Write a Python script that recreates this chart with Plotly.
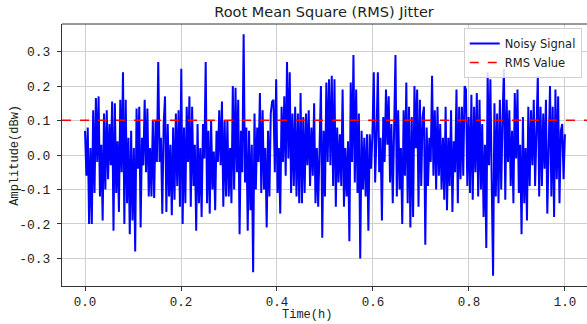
import numpy as np
import plotly.graph_objects as go

title_text = "Root Mean Square (RMS) Jitter"
x_label = "Time(h)"
y_label = "Amplitude(dBw)"
signal_name = "Noisy Signal"
rms_name = "RMS Value"

seg1 = [0.07, -0.06, 0.08, -0.20, 0.02, -0.20, 0.13, -0.11, 0.165, -0.02, 0.17, -0.12, 0.03, -0.19,
        0.12, -0.10, 0.13, -0.07, 0.09, -0.03, 0.155, -0.22, 0.15, -0.11, 0.04, -0.165, 0.16, -0.05,
        0.24, -0.20, 0.16, -0.14, 0.05, -0.23, 0.07, -0.19, 0.02, -0.28, 0.135, -0.04, 0.14, -0.21,
        0.05, -0.03, 0.16, -0.05, 0.135, -0.12, 0.02, -0.12, 0.10, -0.125, 0.10, -0.02, 0.27, -0.02,
        0.05, -0.17, 0.09, 0.17, -0.165, 0.09, -0.12, 0.03, -0.175, 0.08, -0.13, 0.12]
seg2 = [-0.09, 0.13, -0.15, 0.25, -0.20, 0.08, -0.14, 0.14, -0.02, 0.17, -0.15, 0.14, -0.09, 0.03,
        -0.22, 0.09, -0.14, 0.02, -0.18, 0.09, -0.01, 0.27, -0.14, 0.07, -0.17, 0.10, -0.10, 0.01,
        -0.16, 0.07, -0.02, 0.13, -0.03, 0.155, -0.15, 0.10, -0.12, 0.10, -0.12, 0.02, -0.14, 0.20,
        -0.10, 0.195, -0.05, 0.16, -0.23, 0.07, -0.05, 0.35, -0.08, 0.08, -0.22, 0.07, -0.16, 0.03,
        -0.34, 0.12, -0.10, 0.08, -0.02, 0.18, -0.11, 0.13, -0.10, 0.02, -0.21, 0.07, -0.12, 0.12, 0.155]
seg3 = [0.16, -0.05, 0.22, -0.11, 0.02, -0.17, 0.14, -0.02, 0.17, -0.06, 0.27, -0.01, 0.24, -0.11,
        0.12, -0.09, 0.14, -0.12, 0.12, -0.14, 0.18, -0.14, 0.11, -0.11, 0.12, -0.03, 0.13, -0.09,
        0.08, -0.06, 0.15, -0.14, 0.02, -0.15, 0.05, 0.20, -0.24, 0.07, -0.12, 0.21, -0.02, 0.22,
        -0.03, 0.23, -0.09, 0.22, -0.15, 0.08, -0.08, 0.06, -0.09, 0.19, -0.15, 0.02, -0.12, 0.04,
        -0.25, 0.21, -0.02, 0.29, -0.08, 0.19, -0.11, 0.12, -0.30, 0.07, -0.10, 0.05, -0.12, 0.06,
        -0.22, 0.06, -0.04, 0.06, 0.24]
seg4 = [-0.08, 0.06, 0.24, -0.05, 0.05, -0.19, 0.11, -0.02, 0.19, 0.03, 0.17, -0.08, 0.09, -0.14,
        0.04, 0.29, -0.12, 0.13, -0.10, 0.02, -0.20, 0.13, -0.06, 0.21, -0.14, 0.14, -0.21, 0.11,
        -0.18, 0.20, 0.02, 0.19, -0.15, 0.16, -0.09, 0.11, 0.14, -0.26, 0.08, -0.09, 0.05, -0.02,
        0.23, -0.06, 0.13, -0.10, 0.14, -0.06, 0.09, -0.10, 0.05, -0.13, 0.14, -0.16, 0.05, -0.09,
        0.13, -0.165, 0.04, -0.05, 0.19, -0.14, 0.14, -0.07, 0.14, -0.06, 0.20]
seg5 = [0.19, -0.09, 0.11, -0.11, 0.175, -0.13, 0.14, -0.05, 0.18, -0.12, 0.16, -0.10, 0.09, -0.18,
        0.03, -0.27, 0.24, -0.03, 0.22, -0.08, -0.35, 0.15, -0.12, 0.12, -0.14, 0.16, -0.10, 0.11,
        0.25, -0.13, 0.16, -0.02, 0.13, -0.09, 0.07, -0.14, 0.18, -0.01, 0.19, -0.11, 0.03, -0.23,
        0.11, -0.14, 0.02, -0.19, 0.14, -0.09, 0.13, -0.03, 0.16, -0.09, 0.12, 0.23, -0.12, 0.14,
        -0.09, 0.12, -0.04, 0.16, -0.17, 0.07, 0.20, -0.12, 0.14, -0.18, 0.19, -0.07, 0.17, -0.14,
        0.07, 0.09, -0.07, 0.06]

signal = seg1 + seg2 + seg3 + seg4 + seg5
time_h = np.linspace(0.0, 1.0, len(signal))
rms_value = 0.101

x_ticks = [0.0, 0.2, 0.4, 0.6, 0.8, 1.0]
y_ticks = [-0.3, -0.2, -0.1, 0.0, 0.1, 0.2, 0.3]
x_range = [-0.048, 1.046]
y_range = [-0.38, 0.38]

mono = "Liberation Mono, DejaVu Sans Mono, monospace"
sans = "DejaVu Sans, sans-serif"

fig = go.Figure()
fig.add_trace(go.Scatter(x=time_h, y=signal, mode="lines", name=signal_name,
                         line=dict(color="#0000ff", width=2)))
fig.add_trace(go.Scatter(x=x_range, y=[rms_value, rms_value], mode="lines", name=rms_name,
                         line=dict(color="#ff0000", width=1.6, dash="dash")))

fig.update_layout(
    width=587, height=324,
    margin=dict(l=62, r=0, t=24, b=38),
    paper_bgcolor="white", plot_bgcolor="white",
    title=dict(text=title_text, x=0.552, xanchor="center", y=0.963, yanchor="middle",
               font=dict(family=sans, size=14.5, color="#222")),
    legend=dict(x=0.99, y=0.985, xanchor="right", yanchor="top",
                bgcolor="rgba(255,255,255,0.85)", bordercolor="#d0d0d0", borderwidth=1,
                font=dict(family=sans, size=11.5, color="#222"), tracegroupgap=0),
    showlegend=True,
)
fig.update_xaxes(range=x_range, tickvals=x_ticks, ticktext=[f"{v:.1f}" for v in x_ticks],
                 showgrid=True, gridcolor="#cfcfcf", gridwidth=1, zeroline=False,
                 showline=True, linecolor="#333", linewidth=1, mirror=False,
                 ticks="outside", ticklen=4, tickcolor="#333",
                 tickfont=dict(family=mono, size=12.5, color="#222"))
fig.update_yaxes(range=y_range, tickvals=y_ticks, ticktext=[f"{v:.1f}" for v in y_ticks],
                 showgrid=True, gridcolor="#cfcfcf", gridwidth=1, zeroline=False,
                 showline=True, linecolor="#333", linewidth=1,
                 ticks="outside", ticklen=4, tickcolor="#333", ticklabelstandoff=4,
                 tickfont=dict(family=mono, size=13, color="#222"))
fig.add_annotation(text=x_label, xref="paper", yref="paper", x=0.467, y=-0.112,
                   xanchor="center", yanchor="middle", showarrow=False,
                   font=dict(family=mono, size=12, color="#222"))
fig.add_annotation(text=y_label, xref="paper", yref="paper", x=-0.09, y=0.5,
                   xanchor="center", yanchor="middle", showarrow=False, textangle=-90,
                   font=dict(family=mono, size=12, color="#222"))
fig.add_shape(type="line", xref="paper", yref="paper", x0=0, x1=1, y0=1, y1=1,
              line=dict(color="#333", width=1))

fig.write_html("out.html")
